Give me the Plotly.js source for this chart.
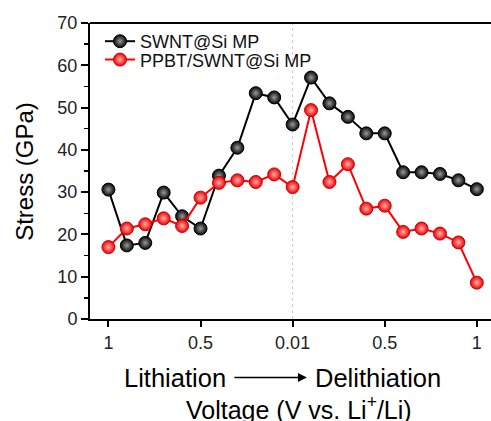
<!DOCTYPE html>
<html><head><meta charset="utf-8">
<script src="https://cdn.plot.ly/plotly-3.0.1.min.js"></script>
<style>html,body{margin:0;padding:0;background:#fff;}</style>
</head><body>
<div id="chart" style="width:491px;height:421px;"></div>
<script>
const steps = [0,1,2,3,4,5,6,7,8,9,10,11,12,13,14,15,16,17,18,19,20];
const swntSi = [30.6,17.4,18.0,29.9,24.3,21.4,33.9,40.5,53.4,52.4,46.0,57.1,51.0,47.8,43.9,43.9,34.7,34.7,34.3,32.8,30.7];
const ppbtSwntSi = [17.0,21.4,22.4,23.8,22.0,28.7,32.2,32.8,32.4,34.2,31.2,49.4,32.4,36.6,26.1,26.8,20.6,21.4,20.2,18.1,8.6];
const tickPos = [0,5,10,15,20];
const tickText = ['1','0.5','0.01','0.5','1'];
const yTicks = [0,10,20,30,40,50,60,70];

const FONT = 'Arial, "Liberation Sans", sans-serif';

const traces = [
  {x: steps, y: swntSi, name: 'SWNT@Si MP', mode: 'lines+markers', type: 'scatter',
   legend: 'legend',
   line: {color: '#000', width: 2},
   marker: {size: 13, color: '#050505', line: {color: '#000', width: 1},
            gradient: {type: 'radial', color: '#9a9a9a'}}},
  {x: steps, y: ppbtSwntSi, name: 'PPBT/SWNT@Si MP', mode: 'lines+markers', type: 'scatter',
   legend: 'legend2',
   line: {color: '#f00', width: 2},
   marker: {size: 13, color: '#ee0000', line: {color: '#d00000', width: 1},
            gradient: {type: 'radial', color: '#ffb0b0'}}}
];

const legendFont = {size: 18, family: FONT, color: '#111'};
const layout = {
  width: 491, height: 421,
  margin: {l: 90, r: 0, t: 23, b: 102},
  paper_bgcolor: '#fff', plot_bgcolor: '#fff',
  font: {family: FONT, color: '#000'},
  showlegend: true,
  legend: {x: 0.025, y: 1.0, xanchor: 'left', yanchor: 'top', bgcolor: 'rgba(0,0,0,0)', font: legendFont},
  legend2: {x: 0.025, y: 0.938, xanchor: 'left', yanchor: 'top', bgcolor: 'rgba(0,0,0,0)', font: legendFont},
  xaxis: {range: [-1, 20.77], showgrid: false, zeroline: false,
          showline: true, linecolor: '#000', linewidth: 2, mirror: false,
          ticks: 'outside', ticklen: 6, tickwidth: 2, tickcolor: '#000',
          tickmode: 'array', tickvals: tickPos, ticktext: tickText,
          tickfont: {size: 18, family: FONT, color: '#222'}},
  yaxis: {range: [0, 70], showgrid: false, zeroline: false,
          showline: true, linecolor: '#000', linewidth: 2,
          ticks: 'outside', ticklen: 7, tickwidth: 2, tickcolor: '#000',
          tickmode: 'array', tickvals: yTicks,
          minor: {ticks: 'outside', ticklen: 4, tickwidth: 1.5, tickcolor: '#000', dtick: 5, showgrid: false},
          tickfont: {size: 18, family: FONT, color: '#222'}},
  shapes: [
    {type: 'line', xref: 'x', yref: 'paper', x0: 10, x1: 10, y0: 0, y1: 1,
     line: {color: '#c8c8c8', width: 1, dash: 'dot'}, layer: 'below'},
    {type: 'line', xref: 'paper', yref: 'paper', x0: 0, x1: 1, y0: 1, y1: 1,
     line: {color: '#000', width: 2}}
  ],
  annotations: [
    {text: 'Stress (GPa)', xref: 'paper', yref: 'paper', x: -0.165, y: 0.5,
     textangle: -90, showarrow: false, xanchor: 'center', yanchor: 'middle',
     font: {size: 24, family: FONT, color: '#000'}},
    {text: 'Lithiation', xref: 'paper', yref: 'paper', x: 0.345, y: -0.2,
     showarrow: false, xanchor: 'right', yanchor: 'middle',
     font: {size: 25.5, family: FONT, color: '#000'}},
    {text: 'Delithiation', xref: 'paper', yref: 'paper', x: 0.555, y: -0.2,
     showarrow: false, xanchor: 'left', yanchor: 'middle',
     font: {size: 25.5, family: FONT, color: '#000'}},
    {text: '', xref: 'paper', yref: 'paper', x: 0.541, y: -0.198,
     ax: -74, ay: 0, showarrow: true, arrowhead: 2, arrowsize: 1.2, arrowwidth: 1.5,
     arrowcolor: '#000'},
    {text: 'Voltage (V vs. Li<sup>+</sup>/Li)', xref: 'paper', yref: 'paper', x: 0.52, y: -0.3,
     showarrow: false, xanchor: 'center', yanchor: 'middle',
     font: {size: 25, family: FONT, color: '#000'}}
  ]
};

Plotly.newPlot('chart', traces, layout, {displayModeBar: false, staticPlot: true});
</script>
</body></html>
